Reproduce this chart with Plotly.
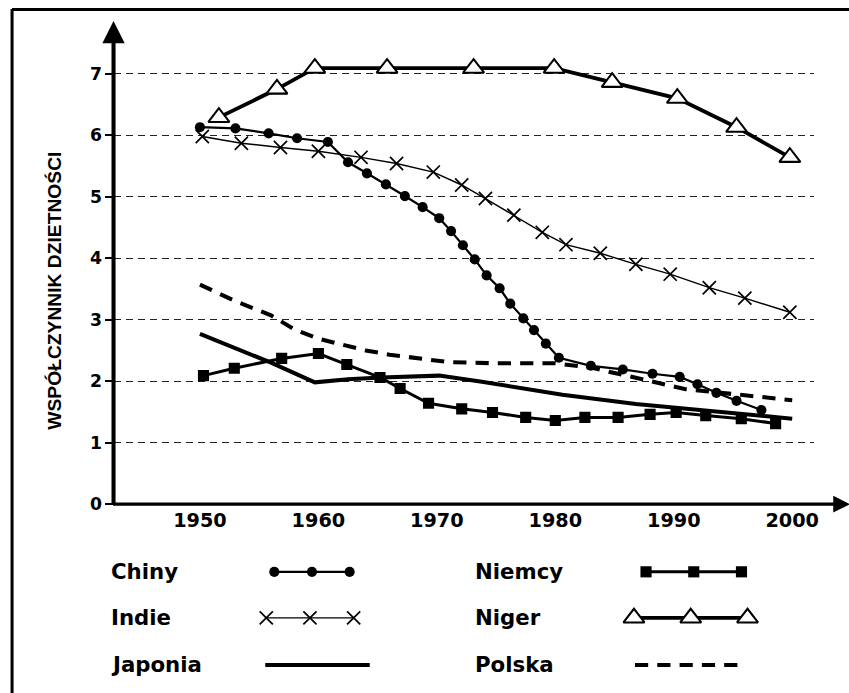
import plotly.graph_objects as go

W, H = 849, 693            # design size (reference pixels)
KX, KY = 1.011, 1.016      # compensation for the photographing scale
K = (KX + KY) / 2
FW, FH = round(W * KX), round(H * KY)

# ---------------- data ----------------
chiny_years = [1950, 1953, 1955.8, 1958.2, 1960.8, 1962.5, 1964.1, 1965.7, 1967.3, 1968.8,
               1970.2, 1971.2, 1972.2, 1973.2, 1974.2, 1975.3, 1976.2, 1977.3, 1978.2, 1979.2,
               1980.3, 1983.0, 1985.7, 1988.2, 1990.5, 1992.0, 1993.6, 1995.3, 1997.4]
chiny_vals = [6.13, 6.11, 6.03, 5.95, 5.89, 5.56, 5.38, 5.20, 5.01, 4.83,
              4.65, 4.44, 4.21, 3.98, 3.72, 3.51, 3.26, 3.02, 2.83, 2.61,
              2.38, 2.25, 2.19, 2.12, 2.07, 1.95, 1.81, 1.68, 1.53]

indie_years = [1950.2, 1953.5, 1956.8, 1960.0, 1963.6, 1966.6, 1969.7, 1972.1, 1974.1,
               1976.5, 1978.9, 1980.9, 1983.8, 1986.8, 1989.7, 1993.0, 1996.0, 1999.8]
indie_vals = [5.98, 5.87, 5.80, 5.74, 5.64, 5.54, 5.40, 5.19, 4.97,
              4.70, 4.42, 4.22, 4.08, 3.90, 3.74, 3.52, 3.35, 3.12]

japonia_years = [1950, 1956, 1959.7, 1962.5, 1965.3, 1970.2, 1973.8, 1980.6, 1986.8, 1992.5, 2000]
japonia_vals = [2.77, 2.30, 1.98, 2.03, 2.06, 2.09, 1.99, 1.78, 1.63, 1.52, 1.39]

niemcy_years = [1950.3, 1952.9, 1956.9, 1960.0, 1962.4, 1965.2, 1966.9, 1969.3, 1972.1, 1974.7,
                1977.5, 1980.0, 1982.5, 1985.3, 1988.0, 1990.2, 1992.7, 1995.7, 1998.6]
niemcy_vals = [2.09, 2.21, 2.37, 2.45, 2.27, 2.06, 1.88, 1.64, 1.55, 1.49,
               1.41, 1.36, 1.41, 1.41, 1.46, 1.49, 1.44, 1.39, 1.31]

niger_years = [1951.6, 1956.5, 1959.7, 1965.8, 1973.1, 1979.9, 1984.8, 1990.3, 1995.3, 1999.8]
niger_vals = [6.29, 6.75, 7.09, 7.09, 7.09, 7.09, 6.86, 6.60, 6.13, 5.64]

polska_years = [1950, 1953, 1956, 1958, 1960, 1962, 1964, 1966, 1968.5, 1971, 1975, 1980,
                1983, 1987, 1991, 1996, 2000]
polska_vals = [3.57, 3.30, 3.07, 2.84, 2.69, 2.60, 2.50, 2.43, 2.37, 2.31, 2.29, 2.29,
               2.22, 2.05, 1.87, 1.77, 1.69]

x_ticks = [1950, 1960, 1970, 1980, 1990, 2000]
y_ticks = [0, 1, 2, 3, 4, 5, 6, 7]
y_title = "WSPÓŁCZYNNIK DZIETNOŚCI"

# ---------------- styles ----------------
BLACK = "#000000"
def s(v): return v * K
styles = {
    "Chiny": dict(mode="lines+markers", line=dict(color=BLACK, width=s(2.2)),
                  marker=dict(symbol="circle", size=s(10), color=BLACK)),
    "Indie": dict(mode="lines+markers", line=dict(color=BLACK, width=s(1.4)),
                  marker=dict(symbol="x-thin-open", size=s(13), color=BLACK,
                              line=dict(color=BLACK, width=s(1.7)))),
    "Japonia": dict(mode="lines", line=dict(color=BLACK, width=s(4))),
    "Niemcy": dict(mode="lines+markers", line=dict(color=BLACK, width=s(3)),
                   marker=dict(symbol="square", size=s(11), color=BLACK)),
    "Niger": dict(mode="lines+markers", line=dict(color=BLACK, width=s(3.8)),
                  marker=dict(symbol="triangle-up", size=s(18), color="white",
                              line=dict(color=BLACK, width=s(2)))),
    "Polska": dict(mode="lines", line=dict(color=BLACK, width=s(4),
                                           dash=f"{s(13):.1f}px,{s(9):.1f}px")),
}
series = {
    "Polska": (polska_years, polska_vals),
    "Japonia": (japonia_years, japonia_vals),
    "Niemcy": (niemcy_years, niemcy_vals),
    "Indie": (indie_years, indie_vals),
    "Chiny": (chiny_years, chiny_vals),
    "Niger": (niger_years, niger_vals),
}

fig = go.Figure()
for name, (xs, ys) in series.items():
    fig.add_trace(go.Scatter(x=xs, y=ys, name=name, showlegend=False,
                             xaxis="x", yaxis="y", hoverinfo="x+y+name",
                             **styles[name]))

# ---------------- layout geometry (design pixels) ----------------
PL, PR = 113, 810          # plot left/right
PT, PB = 40, 503.4         # plot top/bottom
def fx(px): return px / W
def fy(py): return 1 - py / H

legend_rows = [("Chiny", "Niemcy"), ("Indie", "Niger"), ("Japonia", "Polska")]
row_y = [571, 617, 664]
col_text_x = [108, 471]
col_sample = {"Chiny": (273, 348), "Indie": (265, 352), "Japonia": (264, 368),
              "Niemcy": (643, 738), "Niger": (631, 744), "Polska": (632, 742)}
annotations = []
for r, pair in enumerate(legend_rows):
    for c, name in enumerate(pair):
        annotations.append(dict(x=col_text_x[c], y=row_y[r], xref="x2", yref="y2",
                                text=name, showarrow=False, xanchor="left", yanchor="middle",
                                font=dict(family="DejaVu Sans", size=s(21), color=BLACK, weight="bold")))
        x0, x1 = col_sample[name]
        st = styles[name]
        if "markers" in st["mode"]:
            xs = [x0, (x0 + x1) / 2, x1]
        else:
            xs = [x0, x1]
        fig.add_trace(go.Scatter(x=xs, y=[row_y[r]] * len(xs), xaxis="x2", yaxis="y2",
                                 showlegend=False, hoverinfo="skip", **st))

annotations.append(dict(x=54, y=290, xref="x2", yref="y2", text=y_title,
                        textangle=-90, showarrow=False, xanchor="center", yanchor="middle",
                        font=dict(family="Liberation Sans", size=s(19), color=BLACK, weight="bold")))
annotations.append(dict(x=PL, y=21, ax=PL, ay=PB + 1.5,
                        xref="x2", yref="y2", axref="x2", ayref="y2",
                        text="", showarrow=True, arrowhead=2, arrowsize=1.1,
                        arrowwidth=s(4), arrowcolor=BLACK))
annotations.append(dict(x=846, y=PB, ax=PL - 2, ay=PB,
                        xref="x2", yref="y2", axref="x2", ayref="y2",
                        text="", showarrow=True, arrowhead=2, arrowsize=1.1,
                        arrowwidth=s(3), arrowcolor=BLACK))

shapes = [
    dict(type="line", xref="paper", yref="paper", x0=fx(12), x1=fx(12), y0=fy(9), y1=fy(H + 5),
         line=dict(color=BLACK, width=s(3))),
    dict(type="line", xref="paper", yref="paper", x0=fx(12), x1=fx(847.5), y0=fy(9.5), y1=fy(9.5),
         line=dict(color=BLACK, width=s(3))),
    dict(type="line", xref="paper", yref="paper", x0=fx(847.5), x1=fx(847.5), y0=fy(9), y1=fy(H + 5),
         line=dict(color=BLACK, width=s(3))),
]

x0_year = 1950 - (199 - PL) / 11.79
x1_year = 1950 + (PR - 199) / 11.79
y_top = (PB - PT) / 61.4

fig.update_layout(
    width=FW, height=FH, autosize=False, margin=dict(l=0, r=0, t=0, b=0, pad=0),
    paper_bgcolor="white", plot_bgcolor="rgba(0,0,0,0)",
    showlegend=False,
    xaxis=dict(domain=[fx(PL), fx(PR)], range=[x0_year, x1_year], tickvals=x_ticks,
               ticks="", showgrid=False, zeroline=False, showline=False,
               tickfont=dict(family="DejaVu Sans", size=s(19), color=BLACK, weight="bold"),
               ticklabelstandoff=3, fixedrange=True),
    yaxis=dict(domain=[fy(PB), fy(PT)], range=[0, y_top], tickvals=y_ticks,
               ticks="outside", ticklen=s(7), tickwidth=s(2), tickcolor=BLACK,
               showgrid=True, gridcolor="#222222", gridwidth=s(1.2), griddash="7px,5px",
               zeroline=False, showline=False,
               tickfont=dict(family="DejaVu Sans", size=s(17), color=BLACK, weight="bold"),
               fixedrange=True),
    xaxis2=dict(domain=[0, 1], range=[0, W], visible=False, fixedrange=True),
    yaxis2=dict(domain=[0, 1], range=[H, 0], visible=False, fixedrange=True),
    annotations=annotations, shapes=shapes,
)

fig.write_html(
    "out.html",
    config={"displayModeBar": False},
    post_script="document.body.style.margin='0px';document.body.style.overflow='hidden';",
)
